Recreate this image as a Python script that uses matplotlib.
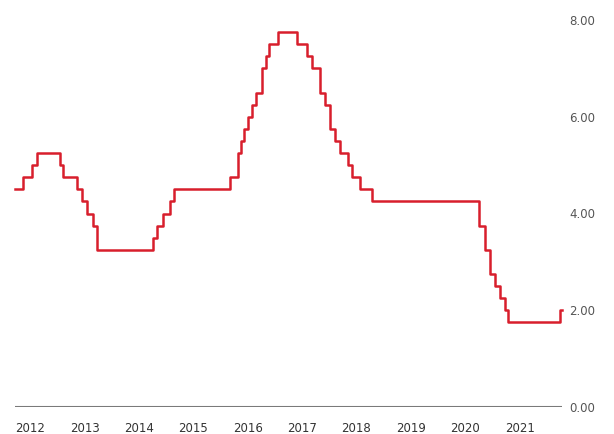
import numpy as np
import matplotlib
matplotlib.use("Agg")
import matplotlib.pyplot as plt

# policy rate, decimal years when each level starts
dates = [2011.72, 2011.87, 2012.03, 2012.12, 2012.55, 2012.61, 2012.86, 2012.95,
         2013.05, 2013.16, 2013.23, 2014.26, 2014.33, 2014.44, 2014.57, 2014.65,
         2015.68, 2015.82, 2015.88, 2015.93, 2016.00, 2016.07, 2016.16, 2016.26,
         2016.33, 2016.40, 2016.56, 2016.91, 2017.09, 2017.18, 2017.33, 2017.42,
         2017.51, 2017.61, 2017.70, 2017.85, 2017.91, 2018.07, 2018.29, 2020.25,
         2020.36, 2020.46, 2020.55, 2020.64, 2020.73, 2020.78, 2021.74, 2021.78]
rates = [4.50, 4.75, 5.00, 5.25, 5.00, 4.75, 4.50, 4.25,
         4.00, 3.75, 3.25, 3.50, 3.75, 4.00, 4.25, 4.50,
         4.75, 5.25, 5.50, 5.75, 6.00, 6.25, 6.50, 7.00,
         7.25, 7.50, 7.75, 7.50, 7.25, 7.00, 6.50, 6.25,
         5.75, 5.50, 5.25, 5.00, 4.75, 4.50, 4.25, 3.75,
         3.25, 2.75, 2.50, 2.25, 2.00, 1.75, 2.00, 2.00]

years = list(range(2012, 2022))
yticks = [0, 2, 4, 6, 8]

fig = plt.figure(figsize=(6.14, 4.34), dpi=100)
ax = fig.add_axes([15 / 614, 27 / 434, 547 / 614, 387 / 434])

ax.plot(dates, rates, drawstyle="steps-post", color="#d81e2c", lw=1.8, clip_on=False)
ax.axhline(0, color="#7a7a7a", lw=1.5)

ax.set_xlim(dates[0], dates[-1])
ax.set_ylim(0, 8)
for s in ax.spines.values():
    s.set_visible(False)

ax.set_xticks(years)
ax.set_xticklabels([str(y) for y in years])
ax.set_yticks(yticks)
ax.set_yticklabels([f"{v:.2f}" for v in yticks])
ax.yaxis.tick_right()
ax.tick_params(axis="x", length=0, pad=11, labelsize=8.5, labelcolor="#333333")
ax.tick_params(axis="y", length=0, pad=5, labelsize=8.5, labelcolor="#555555")

fig.savefig("out.png", dpi=100)
